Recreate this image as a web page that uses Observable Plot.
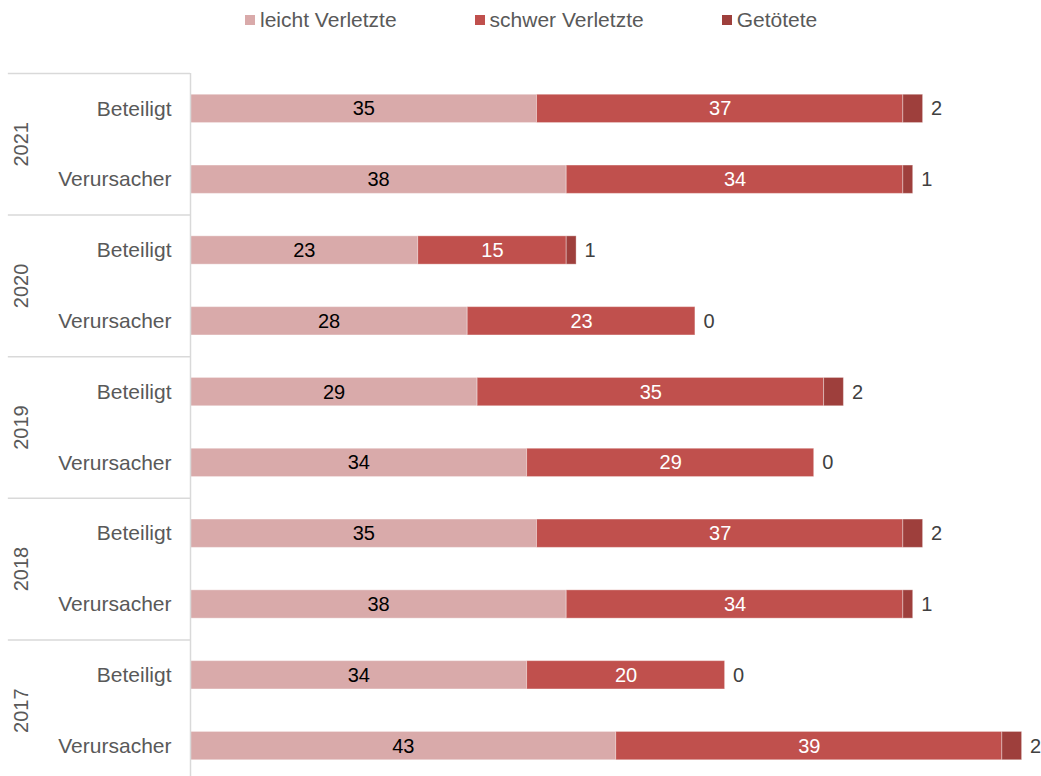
<!DOCTYPE html>
<html>
<head>
<meta charset="utf-8">
<script src="https://cdn.jsdelivr.net/npm/d3@7"></script>
<script src="https://cdn.jsdelivr.net/npm/@observablehq/plot@0.6"></script>
<style>
  html, body { margin: 0; padding: 0; background: #fff; overflow: hidden; }
  body { width: 1041px; height: 776px; font-family: "Liberation Sans", Arial, sans-serif; }
  #legend { height: 40px; display: flex; align-items: center; gap: 78px; padding-left: 245px; box-sizing: border-box; }
  .item { display: flex; align-items: center; gap: 5px; font-size: 21px; color: #595959; }
  .sw { width: 10px; height: 10px; display: inline-block; }
  svg { display: block; }
</style>
</head>
<body>
<div id="legend"></div>
<div id="chart"></div>
<script>
// ---- data ----
const years = ["2021", "2021", "2020", "2020", "2019", "2019", "2018", "2018", "2017", "2017"];
const roles = ["Beteiligt", "Verursacher", "Beteiligt", "Verursacher", "Beteiligt", "Verursacher", "Beteiligt", "Verursacher", "Beteiligt", "Verursacher"];
const leicht = [35, 38, 23, 28, 29, 34, 35, 38, 34, 43];
const schwer = [37, 34, 15, 23, 35, 29, 37, 34, 20, 39];
const getoetet = [2, 1, 1, 0, 2, 0, 2, 1, 0, 2];
const categories = ["leicht Verletzte", "schwer Verletzte", "Getötete"];
const colors = ["#D9AAAA", "#C0504D", "#9E3F3C"];

// ---- derived tables ----
const rows = years.map((y, i) => ({key: y + "|" + roles[i], year: y, role: roles[i], i}));
const keys = rows.map(r => r.key);
const series = [leicht, schwer, getoetet];
const segs = [];
rows.forEach((r, i) => {
  let acc = 0;
  series.forEach((s, c) => {
    segs.push({key: r.key, cat: categories[c], x1: acc, x2: acc + s[i], mid: acc + s[i] / 2, v: s[i], c});
    acc += s[i];
  });
});
const totals = rows.map((r, i) => ({key: r.key, total: leicht[i] + schwer[i] + getoetet[i], v: getoetet[i]}));
const groupTops = rows.filter((r, i) => i % 2 === 0);

// legend
const leg = document.getElementById("legend");
categories.forEach((c, k) => {
  const it = document.createElement("div");
  it.className = "item";
  it.innerHTML = `<span class="sw" style="background:${colors[k]}"></span><span>${c}</span>`;
  leg.appendChild(it);
});

const FS = 20;
const FL = 21;
const step = 708 / keys.length;

const chart = Plot.plot({
  width: 1041,
  height: 741,
  marginTop: 33,
  marginBottom: 0,
  marginLeft: 190,
  marginRight: 9.5,
  style: {fontFamily: "Liberation Sans, Arial, sans-serif", fontSize: FS + "px", background: "#fff"},
  x: {domain: [0, 85], axis: null},
  y: {domain: keys, axis: null, paddingInner: 0.6, paddingOuter: 0.3, round: false},
  color: {domain: categories, range: colors},
  marks: [
    Plot.barX(segs, {y: "key", x1: "x1", x2: "x2", fill: "cat", stroke: "#ffffff", strokeOpacity: 0.35, strokeWidth: 1}),
    Plot.text(segs.filter(d => d.c === 0), {y: "key", x: "mid", text: d => String(d.v), fill: "#000", fontSize: FS}),
    Plot.text(segs.filter(d => d.c === 1), {y: "key", x: "mid", text: d => String(d.v), fill: "#fff", fontSize: FS}),
    Plot.text(totals, {y: "key", x: "total", text: d => String(d.v), fill: "#404040", textAnchor: "start", dx: 8, fontSize: FS}),
    Plot.ruleX([0], {stroke: "#d9d9d9", strokeWidth: 1.5}),
    Plot.ruleY(groupTops, {y: "key", dy: -step / 2, x1: -18.4, x2: 0, stroke: "#d9d9d9", strokeWidth: 1.5}),
    Plot.text(rows, {y: "key", text: "role", frameAnchor: "left", dx: -19, textAnchor: "end", fill: "#595959", fontSize: FL}),
    Plot.text(groupTops, {y: "key", text: "year", frameAnchor: "left", dx: -169, dy: step / 2, rotate: -90, textAnchor: "middle", fill: "#595959", fontSize: FS})
  ]
});
document.getElementById("chart").appendChild(chart);
</script>
</body>
</html>
